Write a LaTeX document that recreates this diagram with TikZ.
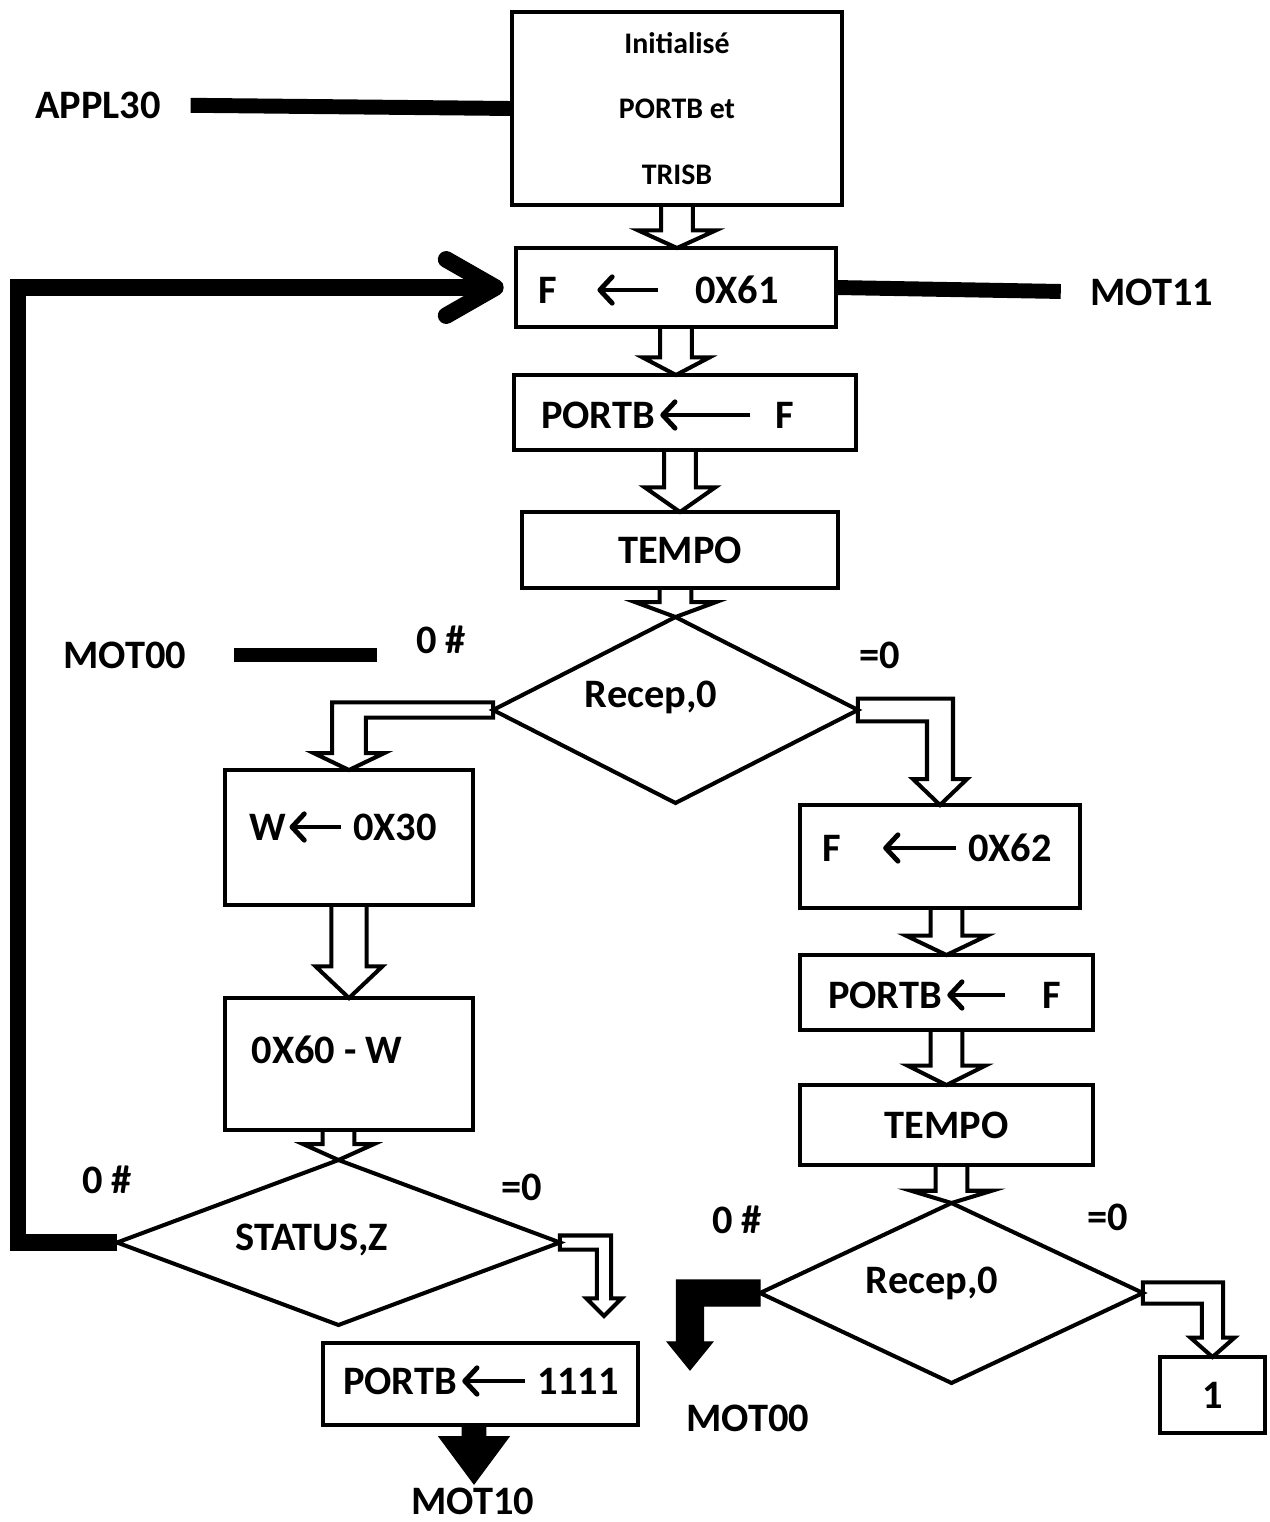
\documentclass[tikz,border=0pt]{standalone}
\usepackage{fontspec}
\setmainfont{Carlito}
\usepackage{tikz}
\usetikzlibrary{arrows.meta,shapes.geometric,calc}
\tikzset{
  pbox/.style={draw,line width=2.3pt,inner sep=0pt,outer sep=0pt,align=center},
  dbox/.style={draw,shape=diamond,line width=2.3pt,inner sep=0pt,outer sep=0pt},
  txt/.style={inner sep=0pt,outer sep=0pt},
  inarr/.style={-{Straight Barb[length=7pt,width=15pt,round]},line width=2.8pt},
  blockarrow/.style={line width=2.3pt,line join=miter},
  solidarrow/.style={fill=black,draw=black,line width=0.6pt},
  thickbar/.style={line width=8.5pt},
  loopline/.style={line width=9.5pt,-{Straight Barb[length=28pt,width=32pt,round]}}
}
% hollow or solid block arrow pointing down: [style]{start}{tip}{half shaft}{half head}{head length}
\newcommand{\blockdown}[6][]{%
  \draw[blockarrow,#1] let \p1=(#2), \p2=(#3) in
    ({\x2-#4},\y1) -- ({\x2-#4},{\y2+#6}) -- ({\x2-#5},{\y2+#6}) -- (\x2,\y2)
    -- ({\x2+#5},{\y2+#6}) -- ({\x2+#4},{\y2+#6}) -- ({\x2+#4},\y1);}
% bent block arrow: [style]{start}{tip}{half bar}{half shaft}{half head}{head length}
\newcommand{\elbowarrow}[7][]{%
  \draw[blockarrow,#1] let \p1=(#2), \p2=(#3), \n1={sign(\x2-\x1)} in
    (\x1,{\y1+#4}) -- ({\x2+(\n1)*#5},{\y1+#4}) -- ({\x2+(\n1)*#5},{\y2+#7})
    -- ({\x2+(\n1)*#6},{\y2+#7}) -- (\x2,\y2) -- ({\x2-(\n1)*#6},{\y2+#7})
    -- ({\x2-(\n1)*#5},{\y2+#7}) -- ({\x2-(\n1)*#5},{\y1-#4}) -- (\x1,{\y1-#4}) -- cycle;}

\begin{document}
\begin{tikzpicture}[x=0.02cm,y=-0.02cm,font=\fontsize{23}{27}\selectfont\bfseries]
  \useasboundingbox (0,0) rectangle (1269,1522);
  % main column
  \node[pbox,minimum width=6.6cm,minimum height=3.86cm,font=\fontsize{17}{37.5}\selectfont\bfseries] (init) at (677,108.5) {Initialisé\\PORTB et\\TRISB};
  \node[txt] (appl) at (98,105) {APPL30};
  \draw[thickbar,shorten <=17pt] (appl.east) -- (init.west);
  \node[pbox,minimum width=6.4cm,minimum height=1.58cm] (f61) at (676,287.5) {};
  \node[txt,anchor=east] (f61l) at (557,290) {F};
  \node[txt,anchor=west] (f61r) at (695,290) {0X61};
  \draw[inarr,shorten >=23pt,shorten <=21pt] (f61r.west) -- (f61l.east);
  \node[txt] (mot11) at (1152,292) {MOT11};
  \draw[thickbar,shorten >=17pt] (f61.east) -- (mot11.west);
  \node[pbox,minimum width=6.84cm,minimum height=1.5cm] (pb1) at (685,412.5) {};
  \node[txt,anchor=east] (pb1l) at (655,415) {PORTB};
  \node[txt,anchor=west] (pb1r) at (775,415) {F};
  \draw[inarr,shorten >=3pt,shorten <=14pt] (pb1r.west) -- (pb1l.east);
  \node[pbox,minimum width=6.32cm,minimum height=1.52cm] (tempo1) at (680,550) {TEMPO};
  \node[dbox,minimum width=7.3cm,minimum height=3.72cm] (d1) at (675.5,710) {};
  \node[txt] (d1t) at (651,697) {Recep,0};
  \node[txt] (mot00a) at (125,655) {MOT00};
  \node[txt] (ne1) at (441,640) {0 \#};
  \node[txt] (eq1) at (880,655) {=0};
  \draw[thickbar,shorten <=27pt,shorten >=22pt] (mot00a.east) -- (mot00a.east -| ne1.west);
  \blockdown{init.south}{init.south |- f61.north}{9pt}{22pt}{10pt}
  \blockdown{f61.south}{f61.south |- pb1.north}{9pt}{19pt}{10pt}
  \blockdown{pb1.south}{tempo1.north}{9pt}{20pt}{14pt}
  \blockdown{tempo1.south}{d1.north}{9pt}{23pt}{8.5pt}
  % branch 0 #
  \node[pbox,minimum width=4.96cm,minimum height=2.7cm] (w30) at (349,837.5) {};
  \node[txt,anchor=east] (w30l) at (286,827) {W};
  \node[txt,anchor=west] (w30r) at (353,827) {0X30};
  \draw[inarr,shorten >=2pt,shorten <=7pt] (w30r.west) -- (w30l.east);
  \node[pbox,minimum width=4.96cm,minimum height=2.64cm] (x60) at (349,1064) {};
  \node[txt] (x60t) at (327,1050) {0X60 - W};
  \node[dbox,minimum width=8.86cm,minimum height=3.3cm] (st) at (338.5,1242.5) {};
  \node[txt] (stt) at (312,1240) {STATUS,Z};
  \node[txt] (ne2) at (107,1180) {0 \#};
  \node[txt] (eq2) at (522,1187) {=0};
  \elbowarrow{d1.west}{w30.north}{4.3pt}{9.6pt}{20pt}{9.6pt}
  \blockdown{w30.south}{x60.north}{10pt}{19pt}{18pt}
  \blockdown{x60.south}{st.north}{9pt}{20pt}{9pt}
  \coordinate (loopx) at (18,800);
  \draw[loopline,shorten >=7pt] (st.west) -| (loopx) |- (f61.west);
  \coordinate (sttip) at (604,1316);
  \elbowarrow{st.east}{sttip}{4pt}{4pt}{10pt}{10pt}
  \node[pbox,minimum width=6.3cm,minimum height=1.64cm] (p1111) at (480.5,1384) {};
  \node[txt,anchor=east] (p1111l) at (457,1381) {PORTB};
  \node[txt,anchor=west] (p1111r) at (537,1381) {1111};
  \draw[inarr,shorten >=3pt,shorten <=7pt] (p1111r.west) -- (p1111l.east);
  \coordinate (m10tip) at (474,1484);
  \blockdown[solidarrow]{p1111.south}{m10tip}{6.8pt}{20pt}{27pt}
  \node[txt] (mot10) at (473,1501) {MOT10};
  % branch =0
  \node[pbox,minimum width=5.6cm,minimum height=2.06cm] (f62) at (940,856.5) {};
  \node[txt,anchor=east] (f62l) at (841,848) {F};
  \node[txt,anchor=west] (f62r) at (968,848) {0X62};
  \draw[inarr,shorten >=24pt,shorten <=7pt] (f62r.west) -- (f62l.east);
  \elbowarrow{d1.east}{f62.north}{6.5pt}{7.4pt}{15.3pt}{14.7pt}
  \node[pbox,minimum width=5.86cm,minimum height=1.5cm] (pb2) at (946.5,992.5) {};
  \node[txt,anchor=east] (pb2l) at (942,995) {PORTB};
  \node[txt,anchor=west] (pb2r) at (1042,995) {F};
  \draw[inarr,shorten >=3pt,shorten <=21pt] (pb2r.west) -- (pb2l.east);
  \node[pbox,minimum width=5.86cm,minimum height=1.6cm] (tempo2) at (946.5,1125) {TEMPO};
  \node[dbox,minimum width=7.66cm,minimum height=3.6cm] (d2) at (951.5,1293) {};
  \node[txt] (d2t) at (932,1283) {Recep,0};
  \node[txt] (ne3) at (737,1220) {0 \#};
  \node[txt] (eq3) at (1108,1217) {=0};
  \blockdown{f62.south}{pb2.north}{9pt}{23pt}{11pt}
  \blockdown{pb2.south}{tempo2.north}{9pt}{22pt}{11pt}
  \blockdown{tempo2.south}{d2.north}{9pt}{23pt}{7pt}
  \node[pbox,minimum width=2.1cm,minimum height=1.52cm] (one) at (1212.5,1395) {1};
  \elbowarrow{d2.east}{one.north}{6pt}{6pt}{12.5pt}{11pt}
  \coordinate (m00tip) at (690,1370);
  \elbowarrow[solidarrow]{d2.west}{m00tip}{7.4pt}{7.7pt}{13pt}{16pt}
  \node[txt] (mot00b) at (748,1418) {MOT00};
\end{tikzpicture}
\end{document}
